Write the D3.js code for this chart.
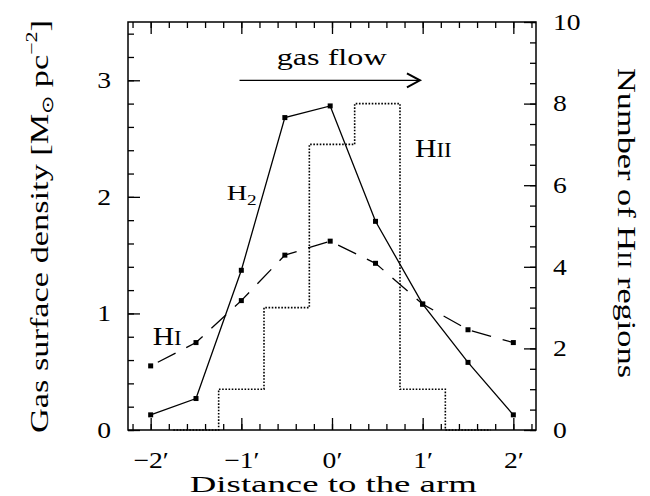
<!doctype html>
<html>
<head>
<meta charset="UTF-8">
<title>Gas surface density across the arm</title>
<script src="https://d3js.org/d3.v7.min.js"></script>
<style>
    body{ margin:0; background:#fff; }
    text{ font-family:"Liberation Serif","Times New Roman",serif; fill:#000; }
    .tick text{ font-size:23px; }
    .tick line{ stroke:#000; stroke-width:1.3; }
</style>
</head>
<body>
<svg id="chart" width="650" height="496"></svg>
<script>
// measured points (distance in arcmin)
var dist = [-2, -1.5, -1, -0.52, -0.02, 0.48, 1, 1.5, 2];
var h2   = [0.13, 0.27, 1.37, 2.68, 2.78, 1.79, 1.08, 0.58, 0.13];
var hi   = [0.55, 0.75, 1.11, 1.50, 1.62, 1.43, 1.08, 0.86, 0.75];

// HII histogram (right axis)
var binEdges = [-1.75, -1.25, -0.75, -0.25, 0.25, 0.75, 1.25, 1.75];
var hiiCount = [0, 1, 3, 7, 8, 1, 0];

var xTicks = [-2, -1, 0, 1, 2];
var xTickLabels = ["\u22122\u2032", "\u22121\u2032", "0\u2032", "1\u2032", "2\u2032"];
var yTicks = [0, 1, 2, 3];
var y2Ticks = [0, 2, 4, 6, 8, 10];

var arrowX = [-1.02, 0.97], arrowY = 3;

var L = 128, R = 536, T = 22, B = 430;
var svg = d3.select("#chart");

var x  = d3.scaleLinear().domain([-2.25, 2.25]).range([L, R]);
var y  = d3.scaleLinear().domain([0, 3.5]).range([B, T]);
var y2 = d3.scaleLinear().domain([0, 10]).range([B, T]);

var xMinor  = d3.range(-11, 12).map(function(i){ return i * 0.2; });
var yMinor  = d3.range(0, 18).map(function(i){ return i * 0.2; });
var y2Minor = d3.range(0, 21).map(function(i){ return i * 0.5; });

function ticks(gen, vals, size, tf){
    svg.append("g")
       .attr("transform", tf)
       .call(gen.tickValues(vals).tickSize(size).tickFormat(""))
       .call(function(g){ g.select(".domain").remove(); });
}

// minor ticks
ticks(d3.axisBottom(x), xMinor, -6, "translate(0," + B + ")");
ticks(d3.axisTop(x), xMinor, -6, "translate(0," + T + ")");
ticks(d3.axisLeft(y), yMinor, -6, "translate(" + L + ",0)");
ticks(d3.axisRight(y2), y2Minor, -6, "translate(" + R + ",0)");
ticks(d3.axisTop(x), xTicks, -12, "translate(0," + T + ")");

// major ticks with labels
svg.append("g")
   .attr("transform", "translate(0," + B + ")")
   .call(d3.axisBottom(x).tickValues(xTicks).tickSize(-12).tickPadding(22)
           .tickFormat(function(d, i){ return xTickLabels[i]; }))
   .call(function(g){ g.select(".domain").remove(); });

svg.append("g")
   .attr("transform", "translate(" + L + ",0)")
   .call(d3.axisLeft(y).tickValues(yTicks).tickSize(-12).tickPadding(17).tickFormat(d3.format("d")))
   .call(function(g){ g.select(".domain").remove(); });

svg.append("g")
   .attr("transform", "translate(" + R + ",0)")
   .call(d3.axisRight(y2).tickValues(y2Ticks).tickSize(-12).tickPadding(17).tickFormat(d3.format("d")))
   .call(function(g){ g.select(".domain").remove(); });

// widen tick label glyphs a little (the original font is wider)
svg.selectAll(".tick text").each(function(){
    var w = this.getComputedTextLength();
    if (w > 0) d3.select(this).attr("textLength", w * 1.2).attr("lengthAdjust", "spacingAndGlyphs");
});

// frame
svg.append("rect")
   .attr("x", L).attr("y", T)
   .attr("width", R - L).attr("height", B - T)
   .attr("fill", "none").attr("stroke", "#000").attr("stroke-width", 1.5);

// HII histogram
var steps = binEdges.map(function(e, i){
    return [e, hiiCount[Math.min(i, hiiCount.length - 1)]];
});
svg.append("path")
   .attr("d", d3.line().x(function(d){ return x(d[0]); })
                      .y(function(d){ return y2(d[1]); })
                      .curve(d3.curveStepAfter)(steps))
   .attr("fill", "none").attr("stroke", "#000")
   .attr("stroke-width", 1.6).attr("stroke-dasharray", "1.6,1.6");

var line = d3.line().x(function(d){ return x(d[0]); }).y(function(d){ return y(d[1]); });

// HI dashed
svg.append("path")
   .attr("d", line(d3.zip(dist, hi)))
   .attr("fill", "none").attr("stroke", "#000")
   .attr("stroke-width", 1.3).attr("stroke-dasharray", "20,12").attr("stroke-dashoffset", -8);

// H2 solid
svg.append("path")
   .attr("d", line(d3.zip(dist, h2)))
   .attr("fill", "none").attr("stroke", "#000").attr("stroke-width", 1.3);

[h2, hi].forEach(function(ser){
    svg.selectAll(null)
       .data(d3.zip(dist, ser))
       .enter().append("rect")
       .attr("x", function(d){ return x(d[0]) - 2.5; })
       .attr("y", function(d){ return y(d[1]) - 2.5; })
       .attr("width", 5).attr("height", 5)
       .attr("fill", "#000");
});

// gas flow arrow
var ax1 = x(arrowX[0]), ax2 = x(arrowX[1]), ay = y(arrowY);
svg.append("line")
   .attr("x1", ax1).attr("y1", ay).attr("x2", ax2).attr("y2", ay)
   .attr("stroke", "#000").attr("stroke-width", 1.3);
svg.append("path")
   .attr("d", "M" + (ax2 - 13) + "," + (ay - 7) + "L" + ax2 + "," + ay + "L" + (ax2 - 13) + "," + (ay + 7))
   .attr("fill", "none").attr("stroke", "#000").attr("stroke-width", 2);

svg.append("text")
   .attr("x", 331.7).attr("y", 65)
   .attr("text-anchor", "middle").attr("font-size", 23)
   .attr("textLength", 110).attr("lengthAdjust", "spacingAndGlyphs")
   .text("gas flow");

// curve labels
var t = svg.append("text").attr("x", 226.7).attr("y", 200).attr("font-size", 22)
   .attr("textLength", 30).attr("lengthAdjust", "spacingAndGlyphs");
t.append("tspan").text("H");
t.append("tspan").attr("font-size", 15).attr("dy", 5).text("2");

t = svg.append("text").attr("x", 152.7).attr("y", 345).attr("font-size", 26)
   .attr("textLength", 29).attr("lengthAdjust", "spacingAndGlyphs");
t.append("tspan").text("H");
t.append("tspan").attr("font-size", 20).text("I");

t = svg.append("text").attr("x", 415).attr("y", 156.7).attr("font-size", 26)
   .attr("textLength", 36.7).attr("lengthAdjust", "spacingAndGlyphs");
t.append("tspan").text("H");
t.append("tspan").attr("font-size", 20).text("II");

// axis titles
svg.append("text")
   .attr("x", 333.3).attr("y", 492)
   .attr("text-anchor", "middle").attr("font-size", 24)
   .attr("textLength", 287).attr("lengthAdjust", "spacingAndGlyphs")
   .text("Distance to the arm");

t = svg.append("text")
   .attr("transform", "translate(48,226.5) rotate(-90)")
   .attr("text-anchor", "middle").attr("font-size", 25)
   .attr("textLength", 413).attr("lengthAdjust", "spacingAndGlyphs");
t.append("tspan").text("Gas surface density [M");
t.append("tspan").attr("font-size", 16).attr("dy", 5).text("\u2299");
t.append("tspan").attr("dy", -5).text(" pc");
t.append("tspan").attr("font-size", 16).attr("dy", -11).text("\u22122");
t.append("tspan").attr("dy", 11).text("]");

t = svg.append("text")
   .attr("transform", "translate(618,223) rotate(90)")
   .attr("text-anchor", "middle").attr("font-size", 25)
   .attr("textLength", 310).attr("lengthAdjust", "spacingAndGlyphs");
t.append("tspan").text("Number of H");
t.append("tspan").attr("font-size", 19).text("II");
t.append("tspan").text(" regions");
</script>
</body>
</html>
